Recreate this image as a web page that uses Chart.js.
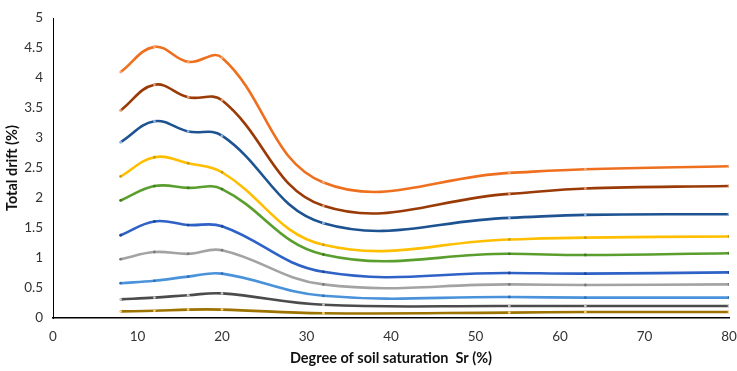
<!DOCTYPE html>
<html>
<head>
<meta charset="utf-8">
<script src="https://cdn.jsdelivr.net/npm/chart.js@4"></script>
<style>
  html, body { margin: 0; padding: 0; background: #fff; }
  #wrap { width: 737px; height: 371px; }
</style>
</head>
<body>
<div id="wrap"><canvas id="chartDrift"></canvas></div>
<script>
const saturation = [8, 12, 16, 20, 32, 54, 63, 80];

const s1 = [4.10, 4.52, 4.27, 4.34, 2.26, 2.42, 2.48, 2.53];
const s2 = [3.46, 3.89, 3.68, 3.63, 1.87, 2.07, 2.16, 2.20];
const s3 = [2.93, 3.28, 3.11, 3.04, 1.58, 1.67, 1.72, 1.73];
const s4 = [2.36, 2.68, 2.58, 2.43, 1.22, 1.31, 1.34, 1.36];
const s5 = [1.96, 2.20, 2.17, 2.15, 1.06, 1.07, 1.05, 1.08];
const s6 = [1.38, 1.61, 1.55, 1.53, 0.77, 0.75, 0.74, 0.76];
const s7 = [0.98, 1.10, 1.07, 1.13, 0.56, 0.56, 0.55, 0.56];
const s8 = [0.58, 0.62, 0.69, 0.74, 0.37, 0.35, 0.34, 0.34];
const s9 = [0.31, 0.34, 0.38, 0.41, 0.22, 0.20, 0.20, 0.20];
const s10 = [0.11, 0.12, 0.14, 0.14, 0.08, 0.09, 0.10, 0.10];

const yTicks = [0, 0.5, 1, 1.5, 2, 2.5, 3, 3.5, 4, 4.5, 5];
const xTicks = [0, 10, 20, 30, 40, 50, 60, 70, 80];

const seriesList = [
  {data: s1, color: '#EE6F1E', mark: '#F6A878'},
  {data: s2, color: '#9A3A06', mark: '#E39A78'},
  {data: s3, color: '#1D5391', mark: '#8FB2DE'},
  {data: s4, color: '#FFBF00', mark: '#C89A10'},
  {data: s5, color: '#5A9F2E', mark: '#3F7A20'},
  {data: s6, color: '#2E62C6', mark: '#1D4590'},
  {data: s7, color: '#A3A3A3', mark: '#7A7A7A'},
  {data: s8, color: '#4A93DA', mark: '#2F6FB0'},
  {data: s9, color: '#4B4B4B', mark: '#C8C8C8'},
  {data: s10, color: '#9C7200', mark: '#F5D080'}
];

const dataChartDrift = {
  datasets: seriesList.map(function (s, i) {
    return {
      label: 'Series ' + (i + 1),
      data: saturation.map(function (x, j) { return {x: x, y: s.data[j]}; }),
      borderColor: s.color,
      backgroundColor: s.mark,
      pointBorderColor: s.mark,
      borderWidth: 2.6,
      tension: 0.4,
      pointRadius: 1.4,
      pointBorderWidth: 0
    };
  })
};

const fontTicks = {family: 'Lato', size: 13.5};
const fontTitle = {family: 'Lato', size: 14.5, weight: 'bold'};

const optionsChartDrift = {
  responsive: true,
  maintainAspectRatio: false,
  animation: false,
  layout: {padding: {top: 7, right: 0, left: 0, bottom: 0}},
  scales: {
    x: {
      type: 'linear',
      min: 0,
      max: 80,
      afterFit: function (scale) {
        scale.height = 53;
        scale.paddingRight = 8;
        scale.paddingLeft = 0;
      },
      afterBuildTicks: function (scale) { scale.ticks = xTicks.map(function (v) { return {value: v}; }); },
      grid: {display: false, drawTicks: false},
      border: {display: true, color: '#000', width: 1.5},
      ticks: {color: '#333', font: fontTicks, padding: 11, maxRotation: 0, callback: function (v) { return String(v); }},
      title: {display: true, text: 'Degree of soil saturation  Sr (%)', color: '#111', font: fontTitle, padding: {top: 1}}
    },
    y: {
      min: 0,
      max: 5,
      afterFit: function (scale) { scale.width = 53; },
      afterBuildTicks: function (scale) { scale.ticks = yTicks.map(function (v) { return {value: v}; }); },
      grid: {display: false, drawTicks: false},
      border: {display: true, color: '#000', width: 1},
      ticks: {color: '#333', font: fontTicks, padding: 10, callback: function (v) { return String(v); }},
      title: {display: true, text: 'Total drift (%)', color: '#111', font: fontTitle, padding: {bottom: 3}}
    }
  },
  plugins: {
    legend: {display: false},
    tooltip: {enabled: false}
  }
};

new Chart(document.getElementById('chartDrift'), {
  type: 'line',
  data: dataChartDrift,
  options: optionsChartDrift
});
</script>
</body>
</html>
